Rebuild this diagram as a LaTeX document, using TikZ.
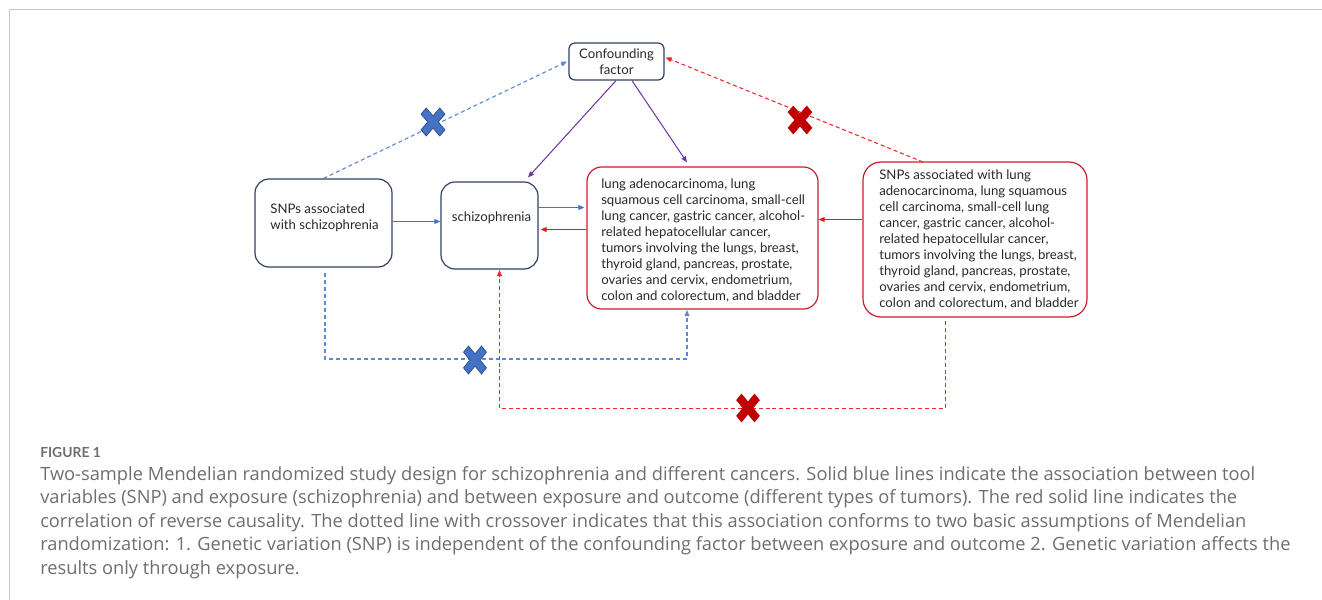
\documentclass[tikz,border=0pt]{standalone}
\usepackage{fontspec}
\setmainfont{Lato}
\newfontfamily\captfont{Open Sans}
\usetikzlibrary{arrows.meta,calc}
\definecolor{navy}{RGB}{47,64,100}
\definecolor{boxred}{RGB}{200,30,40}
\definecolor{linered}{RGB}{225,25,30}
\definecolor{dashred}{RGB}{235,40,40}
\definecolor{lineblue}{RGB}{68,114,196}
\definecolor{dashblue}{RGB}{95,135,215}
\definecolor{xblue}{RGB}{68,114,196}
\definecolor{xblueedge}{RGB}{47,82,143}
\definecolor{xred}{RGB}{192,0,0}
\definecolor{purp}{RGB}{112,48,160}
\definecolor{framegrey}{RGB}{200,200,200}
\definecolor{captgrey}{RGB}{110,110,110}
\definecolor{txt}{RGB}{40,40,40}
\tikzset{
  navybox/.style={draw=navy, line width=0.9pt, inner sep=0pt},
  redbox/.style={draw=boxred, line width=0.9pt, inner sep=0pt},
  dtext/.style={text=txt, font=\fontsize{9.9}{11.93}\selectfont, inner sep=0pt},
  arr/.style={-{Triangle[length=4.5pt,width=3.6pt]}, line width=0.75pt},
  dsh/.style={dash pattern=on 3pt off 2.2pt, line width=0.8pt},
  capt/.style={text=captgrey, font=\captfont\fontsize{13.7}{17}\selectfont, anchor=base west, inner sep=0pt},
  xcross/.pic={\path[pic actions] (-7.35,13.01) -- (-13.01,7.35) -- (-5.66,0) -- (-13.01,-7.35) -- (-7.35,-13.01) -- (0,-5.66) -- (7.35,-13.01) -- (13.01,-7.35) -- (5.66,0) -- (13.01,7.35) -- (7.35,13.01) -- (0,5.66) -- cycle;}
}
\begin{document}
\begin{tikzpicture}[x=0.75pt,y=-0.75pt]
\useasboundingbox (0,0) rectangle (1322,600);
\draw[framegrey, line width=1.1pt] (9.5,600) -- (9.5,9.5) -- (1322,9.5);

% boxes
\node[navybox, rounded corners=4.5pt, minimum width=71.25pt, minimum height=27.75pt, align=center, dtext] (conf) at (616.5,61.5) {Confounding\\factor};
\node[navybox, rounded corners=10.5pt, minimum width=102.75pt, minimum height=66pt] (snp1) at (323.5,223) {};
\node[navybox, rounded corners=10.5pt, minimum width=72.75pt, minimum height=65.25pt] (schiz) at (489.5,225.5) {};
\node[redbox, rounded corners=11pt, minimum width=173.25pt, minimum height=106.5pt] (out) at (702.5,238) {};
\node[redbox, rounded corners=13.5pt, minimum width=168pt, minimum height=116.25pt] (snp2) at (975,239.5) {};

% texts
\node[dtext, align=left] (t-snp1) at (324.5,217.5) {SNPs associated\\with schizophrenia};
\node[dtext] (t-schiz) at (491.5,218) {schizophrenia};
\node[dtext, align=left, anchor=west] (t-out) at (601,240.5) {lung adenocarcinoma, lung\\squamous cell carcinoma, small-cell\\lung cancer, gastric cancer, alcohol-\\related hepatocellular cancer,\\tumors involving the lungs, breast,\\thyroid gland, pancreas, prostate,\\ovaries and cervix, endometrium,\\colon and colorectum, and bladder};
\node[dtext, align=left, anchor=west] (t-snp2) at (879,239.5) {SNPs associated with lung\\adenocarcinoma, lung squamous\\cell carcinoma, small-cell lung\\cancer, gastric cancer, alcohol-\\related hepatocellular cancer,\\tumors involving the lungs, breast,\\thyroid gland, pancreas, prostate,\\ovaries and cervix, endometrium,\\colon and colorectum, and bladder};

% solid connectors
\draw[arr, lineblue] (snp1.east |- 0,221.5) -- (schiz.west |- 0,221.5);
\draw[arr, lineblue] (schiz.east |- 0,207.5) -- ([xshift=-1.5pt]out.west |- 0,207.5);
\draw[arr, linered] (out.west |- 0,229.5) -- ([xshift=1.5pt]schiz.east |- 0,229.5);
\draw[arr, linered] (snp2.west |- 0,219.5) -- (out.east |- 0,219.5);
\draw[arr, purp] ($(conf.south)+(-0.5,0)$) -- ($(schiz.north)+(38.5,-4)$);
\draw[arr, purp] ($(conf.south)+(15.5,0)$) -- ($(out.north)+(-15.5,-4)$);

% dashed connectors
\coordinate (r1) at (923,162);
\draw[arr, dsh, dashblue] (snp1.north) -- ([xshift=-1pt]conf.west);
\draw[arr, dsh, dashred] (r1) -- ($(conf.east)+(1,-4)$);
\coordinate (ob) at (687,310);
\coordinate (sb) at (499.5,270);
\coordinate (r2) at (945.5,321);
\draw[arr, dsh, dashblue] (325,273) |- (ob |- 0,359) -- (ob);
\draw[arr, dsh, dashred] (r2) |- (sb |- 0,408.5) -- (sb);

% crosses
\pic[fill=xblue, draw=xblueedge, line width=0.6pt, xscale=0.92, yscale=1.07] at (433,122) {xcross};
\pic[fill=xblue, draw=xblueedge, line width=0.6pt, xscale=0.88, yscale=1.07] at (475,360) {xcross};
\pic[fill=xred, draw=xred, line width=0.4pt, xscale=0.92, yscale=1.07] at (800,120) {xcross};
\pic[fill=xred, draw=xred, line width=0.4pt, xscale=0.88, yscale=1.07] at (748,408) {xcross};

% caption
\node[text=captgrey, font=\bfseries\fontsize{10.4}{12}\selectfont, anchor=base west, inner sep=0pt] (fig) at (40,457) {FIGURE 1};
\node[capt] (c1) at (40,480) {Two-sample Mendelian randomized study design for schizophrenia and different cancers. Solid blue lines indicate the association between tool};
\node[capt] (c2) at (40,503.5) {variables (SNP) and exposure (schizophrenia) and between exposure and outcome (different types of tumors). The red solid line indicates the};
\node[capt] (c3) at (40,527) {correlation of reverse causality. The dotted line with crossover indicates that this association conforms to two basic assumptions of Mendelian};
\node[capt] (c4) at (40,550.5) {randomization: 1. Genetic variation (SNP) is independent of the confounding factor between exposure and outcome 2. Genetic variation affects the};
\node[capt] (c5) at (40,574) {results only through exposure.};
\end{tikzpicture}
\end{document}
